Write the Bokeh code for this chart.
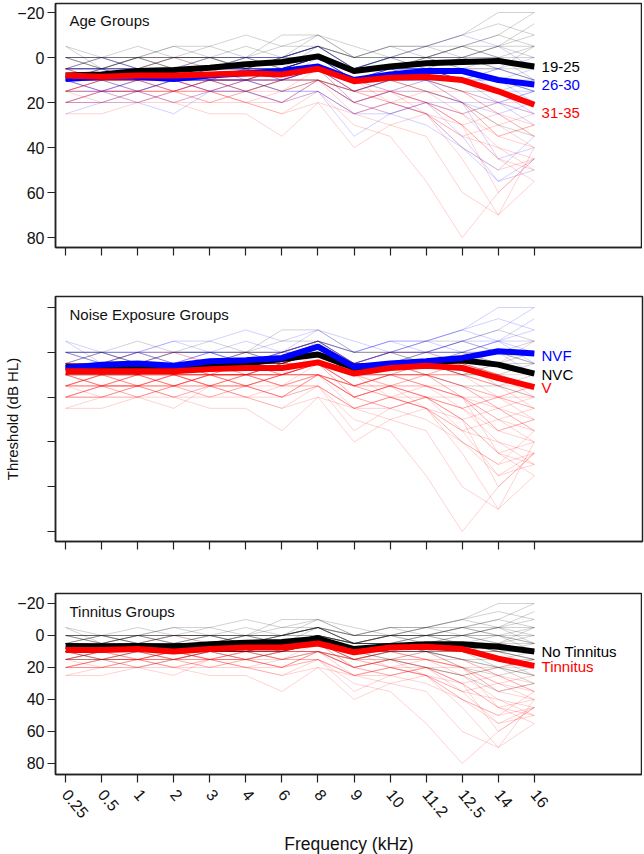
import math
from bokeh.plotting import figure
from bokeh.models import FixedTicker, Label, ColumnDataSource, Range1d
from bokeh.layouts import column
from bokeh.embed import file_html
from bokeh.resources import INLINE

FONT = "Liberation Sans"

freq_labels = ["0.25", "0.5", "1", "2", "3", "4", "6", "8", "9", "10", "11.2", "12.5", "14", "16"]
y_ticks = [-20, 0, 20, 40, 60, 80]

# individual subjects' thresholds (dB HL) at each frequency
s01 = [5, 5, 0, 5, 0, 0, 0, -5, 5, 0, 0, -5, -5, 0]
s02 = [10, 10, 5, 10, 5, 5, 5, 0, 10, 5, 5, 5, 10, 15]
s03 = [15, 10, 10, 15, 10, 10, 5, 5, 15, 10, 10, 15, 25, 35]
s04 = [-5, 0, 5, 0, 0, 5, 0, -5, 0, -5, -5, -10, -15, -10]
s05 = [10, 15, 10, 10, 15, 10, 10, 5, 10, 10, 15, 20, 30, 25]
s06 = [5, 10, 10, 5, 5, 0, 5, 0, 5, 5, 0, 0, 5, 10]
s07 = [20, 15, 15, 20, 15, 15, 20, 15, 25, 20, 20, 30, 45, 50]
s08 = [10, 5, 5, 10, 5, 5, 0, -5, 5, 0, 0, 0, 0, 5]
s09 = [5, 5, 5, 0, 5, 10, 10, 5, 15, 15, 10, 20, 35, 40]
s10 = [15, 15, 20, 15, 10, 15, 10, 10, 20, 15, 20, 25, 20, 30]
s11 = [0, 5, 0, -5, -5, -10, -5, -10, 0, -5, 0, -5, -10, -20]
s12 = [10, 10, 10, 15, 15, 20, 25, 20, 25, 30, 35, 60, 70, 55]
s13 = [5, 0, 5, 5, 5, 5, 5, 0, 10, 5, 5, 5, 15, 20]
s14 = [20, 20, 15, 15, 20, 20, 15, 10, 15, 20, 15, 15, 25, 30]
s15 = [0, 0, -5, 0, -5, 0, -10, -10, 0, 0, -5, -5, 0, -5]
s16 = [10, 15, 15, 10, 10, 10, 10, 5, 10, 5, 10, 10, 15, 25]
s17 = [5, 5, 10, 10, 10, 5, 10, 5, 20, 25, 30, 40, 55, 45]
s18 = [15, 10, 10, 5, 10, 10, 15, 10, 15, 10, 10, 5, 5, 10]
s19 = [10, 10, 5, 5, 5, 0, 0, 0, 5, 0, 5, 10, 5, 0]
s20 = [5, 10, 5, 10, 10, 15, 10, 10, 20, 15, 25, 35, 40, 50]
s21 = [25, 20, 20, 25, 15, 15, 20, 10, 20, 15, 15, 20, 20, 15]
s22 = [0, 5, 5, 5, 0, 5, 5, 0, 5, 5, 0, 0, -5, -15]
s23 = [10, 5, 10, 10, 10, 10, 5, 5, 10, 10, 5, 10, 15, 20]
s24 = [15, 20, 15, 15, 10, 10, 10, 5, 20, 25, 20, 30, 25, 35]
s25 = [5, 5, 0, 0, 0, 0, 5, -5, 0, 0, 5, 0, 5, 5]
s26 = [20, 15, 20, 15, 15, 20, 25, 15, 30, 35, 55, 80, 60, 45]
s27 = [10, 10, 10, 10, 5, 5, 5, 0, 10, 5, 10, 15, 20, 15]
s28 = [5, 0, 0, 5, 5, 5, 0, 0, 5, 0, 0, -5, 0, 10]
s29 = [15, 15, 15, 10, 15, 15, 10, 10, 15, 20, 25, 45, 70, 40]
s30 = [0, 0, 5, 5, 5, 0, 0, -5, 5, 5, 5, 10, 10, 5]
s31 = [10, 15, 10, 15, 10, 5, 10, 5, 15, 10, 10, 5, 10, 20]
s32 = [5, 10, 10, 5, 10, 10, 10, 5, 10, 15, 20, 25, 35, 30]
s33 = [20, 15, 15, 10, 15, 10, 15, 15, 35, 25, 20, 20, 45, 40]
s34 = [-5, 5, 0, 0, 0, 5, 0, -5, 0, -5, -5, -10, -20, -20]
s35 = [15, 10, 10, 15, 10, 10, 5, 5, 10, 10, 10, 15, 20, 25]
s36 = [5, 5, 5, 10, 5, 5, 5, 0, 10, 10, 5, 5, 10, 15]
s37 = [10, 10, 15, 10, 10, 15, 10, 10, 15, 10, 15, 20, 30, 35]
s38 = [25, 25, 20, 20, 25, 25, 35, 20, 40, 30, 25, 40, 50, 45]
s39 = [5, 0, 5, 0, 0, 0, -5, -5, 0, 0, 0, 5, 0, 0]
s40 = [10, 5, 5, 5, 10, 5, 5, 0, 5, 5, 5, 5, 10, 10]
s41 = [0, 0, 0, 0, 0, 5, 5, 0, 5, 0, 0, 0, -5, -5]
s42 = [15, 15, 10, 10, 10, 10, 10, 5, 10, 10, 10, 10, 15, 15]
s43 = [5, 10, 5, 5, 10, 10, 15, 5, 15, 10, 15, 25, 40, 45]
s44 = [10, 10, 10, 5, 5, 5, 0, -5, 5, 5, 0, -5, -10, -5]
s45 = [20, 20, 20, 15, 20, 15, 20, 10, 25, 20, 25, 35, 30, 40]
s46 = [5, 5, 5, 5, 0, 0, 0, -5, 5, 0, -5, -10, -5, 5]
s47 = [15, 10, 15, 15, 15, 20, 20, 10, 20, 15, 15, 20, 35, 30]
s48 = [0, 0, 0, 5, 5, 5, 5, 0, 5, 5, 10, 15, 15, 10]
s49 = [10, 10, 15, 10, 15, 10, 15, 15, 25, 20, 25, 40, 50, 35]
s50 = [5, 5, 0, 0, 5, 0, 0, -5, 5, 0, 0, 5, 5, -5]
s51 = [10, 10, 5, 10, 10, 10, 5, 0, 10, 15, 10, 10, 20, 25]
s52 = [20, 15, 15, 15, 10, 15, 15, 10, 20, 15, 20, 25, 20, 20]
s53 = [0, 5, 5, 0, 0, 0, 5, 0, 10, 5, 5, 0, 0, 5]
s54 = [15, 15, 15, 20, 20, 15, 10, 10, 15, 15, 20, 30, 60, 45]
s55 = [5, 5, 10, 5, 5, 5, 10, 0, 10, 5, 5, 10, 5, 10]
s56 = [10, 15, 10, 10, 10, 10, 10, 5, 15, 10, 10, 20, 25, 20]
s57 = [0, 0, 0, -5, 0, -5, 0, -10, -5, 0, -5, 0, -5, -10]
s58 = [15, 10, 10, 10, 15, 10, 5, 5, 10, 20, 25, 30, 45, 55]
s59 = [10, 5, 10, 5, 5, 10, 5, 0, 5, 5, 5, 10, 10, 15]
s60 = [20, 20, 15, 20, 15, 15, 20, 15, 25, 25, 20, 35, 55, 50]

subjects = [s01, s02, s03, s04, s05, s06, s07, s08, s09, s10,
            s11, s12, s13, s14, s15, s16, s17, s18, s19, s20,
            s21, s22, s23, s24, s25, s26, s27, s28, s29, s30,
            s31, s32, s33, s34, s35, s36, s37, s38, s39, s40,
            s41, s42, s43, s44, s45, s46, s47, s48, s49, s50,
            s51, s52, s53, s54, s55, s56, s57, s58, s59, s60]

# group membership of each subject
age_group = [0, 1, 2, 0, 2, 0, 2, 1, 2, 1, 0, 2, 1, 2, 0, 1, 1, 0, 1, 2,
             1, 0, 0, 2, 0, 2, 1, 0, 2, 1, 1, 2, 1, 0, 2, 1, 0, 2, 0, 1,
             0, 1, 2, 0, 2, 1, 2, 0, 1, 0, 1, 2, 0, 2, 1, 1, 0, 2, 0, 1]
noise_group = [1, 2, 2, 1, 2, 0, 2, 0, 2, 2, 1, 2, 0, 2, 0, 2, 2, 2, 0, 2,
               2, 1, 2, 2, 0, 2, 2, 1, 2, 0, 2, 2, 2, 1, 2, 0, 2, 2, 0, 2,
               1, 2, 2, 0, 2, 1, 2, 0, 2, 2, 2, 2, 0, 2, 2, 2, 1, 2, 0, 2]
tinnitus_group = [0, 0, 1, 0, 1, 0, 1, 0, 1, 0, 0, 1, 0, 1, 0, 0, 1, 0, 0, 1,
                  1, 0, 0, 1, 0, 1, 0, 0, 1, 0, 1, 0, 1, 0, 0, 0, 1, 1, 0, 0,
                  0, 0, 1, 0, 1, 0, 1, 0, 1, 0, 0, 1, 0, 1, 0, 0, 0, 1, 0, 1]

# group means (dB HL)
age_19_25 = [8, 7.5, 6, 5.5, 4.5, 3, 2, -0.5, 6, 4, 2.5, 2, 1.5, 4]
age_26_30 = [9.5, 8.5, 8.5, 9.5, 8, 7, 6, 4, 10, 7.5, 6, 6, 10, 12]
age_31_35 = [8, 8.5, 8, 8, 7.5, 7, 7.5, 5, 10.5, 9, 8.5, 10, 15, 21]

noise_nvc = [6.5, 7, 6.5, 7, 6, 5, 3, 1, 7, 5.5, 4.5, 3.5, 5.5, 9.5]
noise_nvf = [7, 5.5, 5, 6, 4, 3.5, 2.5, -2.5, 6.5, 5, 4, 2.5, -0.5, 0.5]
noise_v = [8.5, 8.5, 8.5, 8.5, 7.5, 7, 7, 4.5, 9.5, 7, 6, 7, 11.5, 15.5]

tin_no = [6.5, 7, 6.5, 7, 5.5, 4.5, 4, 2, 8.5, 6.5, 5.5, 5.5, 7, 10]
tin_yes = [9, 9, 8.5, 10, 8.5, 7.5, 7.5, 5, 10.5, 7.5, 7, 8.5, 14.5, 19]

x_idx = list(range(len(freq_labels)))
FRAME_W = 587


def make_panel(title, title_y, y_lo, y_hi, frame_h, group, palette, means,
               names, name_ys, draw_order, show_ylabels, ytitle, borders):
    p = figure(frame_width=FRAME_W, frame_height=frame_h,
               x_range=Range1d(-0.28, 16.0), y_range=Range1d(y_hi, y_lo),
               output_backend="svg", toolbar_location=None,
               min_border_left=53, min_border_right=2,
               min_border_top=borders[0], min_border_bottom=borders[1])
    p.grid.visible = False
    p.outline_line_color = "#222222"
    p.outline_line_width = 1.5
    p.background_fill_color = "white"
    p.border_fill_color = "white"

    # individual thin lines
    src = ColumnDataSource(dict(
        xs=[x_idx for _ in subjects],
        ys=subjects,
        color=[palette[g] for g in group],
    ))
    p.multi_line("xs", "ys", source=src, line_color="color",
                 line_alpha=0.18, line_width=1)

    # group means
    for k in draw_order:
        p.line(x_idx, means[k], line_color=palette[k], line_width=6,
               line_join="round")
        p.add_layout(Label(x=13.2, y=name_ys[k], text=names[k],
                           text_color=palette[k], text_font=FONT,
                           text_font_size="15px", text_baseline="middle"))

    p.add_layout(Label(x=0.108, y=title_y, text=title, text_color="#111111",
                       text_font=FONT, text_font_size="15px",
                       text_baseline="middle"))

    # axes
    for ax in (p.xaxis[0], p.yaxis[0]):
        ax.axis_line_color = "#222222"
        ax.axis_line_width = 1.5
        ax.major_tick_line_color = "#222222"
        ax.major_tick_line_width = 1.2
        ax.major_tick_in = 0
        ax.major_tick_out = 8
        ax.minor_tick_line_color = None
        ax.major_label_text_font = FONT
        ax.major_label_text_color = "#111111"
        ax.major_label_text_font_size = "16px"
        ax.axis_label_text_font = FONT
        ax.axis_label_text_font_style = "normal"
        ax.axis_label_text_color = "#111111"

    p.yaxis.ticker = FixedTicker(ticks=y_ticks)
    p.yaxis.major_label_standoff = 3
    if not show_ylabels:
        p.yaxis.major_label_overrides = {t: "" for t in y_ticks}
        p.yaxis.major_label_text_font_size = "0px"
    if ytitle:
        p.yaxis.axis_label = ytitle
        p.yaxis.axis_label_text_font_size = "15px"
        p.yaxis.axis_label_standoff = 27

    p.xaxis.ticker = FixedTicker(ticks=x_idx)
    return p


palette_age = ["#000000", "#0000ff", "#ff0000"]
palette_noise = ["#000000", "#0000ff", "#ff0000"]
palette_tin = ["#000000", "#ff0000"]

p1 = make_panel("Age Groups", -16.4, -24, 84.4, 244, age_group, palette_age,
                [age_19_25, age_26_30, age_31_35], ["19-25", "26-30", "31-35"],
                [4.4, 12.4, 24.5], [0, 1, 2], True, None, (3, 25))
p1.xaxis.major_label_overrides = {i: "" for i in x_idx}
p1.xaxis.major_label_text_font_size = "0px"

p2 = make_panel("Noise Exposure Groups", -16.9, -24.9, 84.4, 245, noise_group,
                palette_noise, [noise_nvc, noise_nvf, noise_v],
                ["NVC", "NVF", "V"], [9.8, 1.2, 15.7], [0, 1, 2], False,
                "Threshold (dB HL)", (24, 25))
p2.xaxis.major_label_overrides = {i: "" for i in x_idx}
p2.xaxis.major_label_text_font_size = "0px"

p3 = make_panel("Tinnitus Groups", -15.2, -26.25, 86.9, 181, tinnitus_group,
                palette_tin, [tin_no, tin_yes], ["No Tinnitus", "Tinnitus"],
                [10.2, 19.6], [0, 1], True, None, (27, 8))
p3.xaxis.major_label_overrides = {i: lab for i, lab in enumerate(freq_labels)}
p3.xaxis.major_label_orientation = -math.radians(50)
p3.xaxis.major_label_standoff = 9
p3.xaxis.axis_label = "Frequency (kHz)"
p3.xaxis.axis_label_text_font_size = "17.5px"
p3.xaxis.axis_label_standoff = 8

layout = column(p1, p2, p3, spacing=0)

with open("out.html", "w") as f:
    f.write(file_html(layout, INLINE))
